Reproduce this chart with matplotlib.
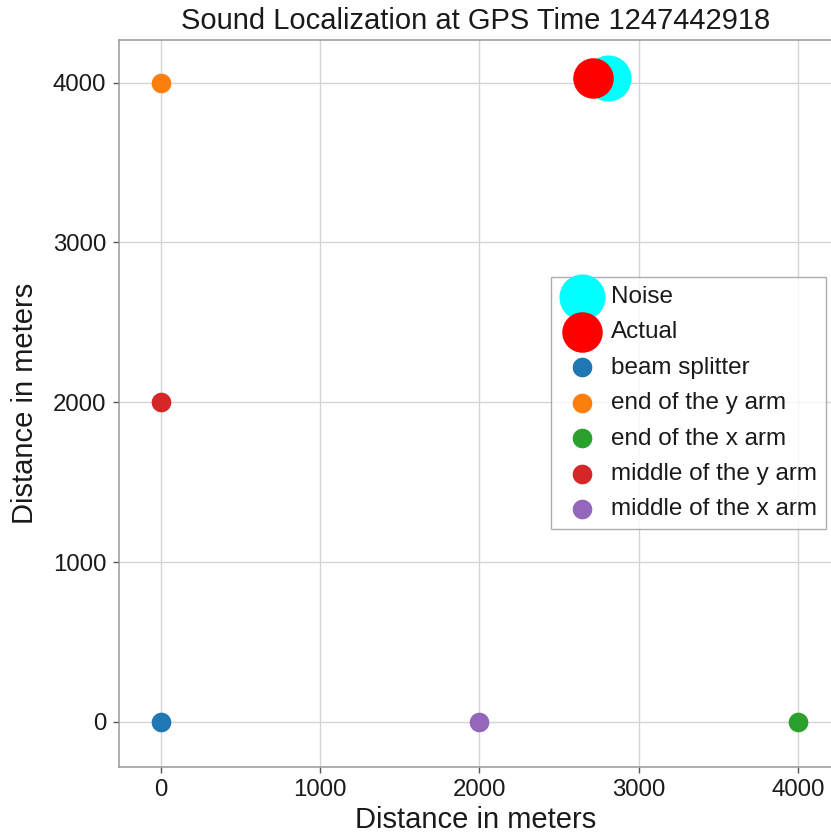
import matplotlib
matplotlib.use("Agg")
import matplotlib.pyplot as plt

plt.rcParams['font.family'] = ['Liberation Sans', 'DejaVu Sans']

# Data
noise_xy = (2810, 4030)
actual_xy = (2710, 4030)
detector_labels = ["beam splitter", "end of the y arm", "end of the x arm",
                   "middle of the y arm", "middle of the x arm"]
detector_x = [0, 0, 4000, 0, 2000]
detector_y = [0, 4000, 0, 2000, 0]
detector_colors = ["#1f77b4", "#ff7f0e", "#2ca02c", "#d62728", "#9467bd"]
xticks = [0, 1000, 2000, 3000, 4000]
yticks = [0, 1000, 2000, 3000, 4000]

W, H = 831, 835
fig = plt.figure(figsize=(W / 100, H / 100), dpi=100)
ax = fig.add_axes([119 / W, 1 - 767 / H, (832 - 119) / W, (767 - 40) / H])

txt = "#1a1a1a"
ax.set_axisbelow(True)
ax.grid(True, color="#d5d5d5", linewidth=1)
for s in ax.spines.values():
    s.set_color("#999999")
    s.set_linewidth(1.1)
ax.tick_params(axis="both", direction="out", length=4, width=1, color="#555555",
               labelsize=17.3, labelcolor=txt, pad=5)

ax.scatter([noise_xy[0]], [noise_xy[1]], s=1100, color="cyan", label="Noise", zorder=3, linewidths=0)
ax.scatter([actual_xy[0]], [actual_xy[1]], s=850, color="red", label="Actual", zorder=3, linewidths=0)
for x, y, lab, c in zip(detector_x, detector_y, detector_labels, detector_colors):
    ax.scatter([x], [y], s=200, color=c, label=lab, zorder=3, linewidths=0)

ax.set_xlim(-264, 4214)
ax.set_ylim(-282, 4267)
ax.set_xticks(xticks)
ax.set_yticks(yticks)

ax.set_title("Sound Localization at GPS Time 1247442918", fontsize=21, color=txt, pad=8)
ax.set_xlabel("Distance in meters", fontsize=21, color=txt, labelpad=3)
ax.set_ylabel("Distance in meters", fontsize=21, color=txt, labelpad=10)

leg = ax.legend(loc="upper right", bbox_to_anchor=(826 / W, 1 - 277 / H),
                bbox_transform=fig.transFigure, fontsize=17.5, frameon=True,
                fancybox=False, borderaxespad=0, handletextpad=0.3,
                handlelength=1.8, labelspacing=0.55, borderpad=0.37)
leg.get_frame().set_edgecolor("#999999")
leg.get_frame().set_linewidth(1)
for t in leg.get_texts():
    t.set_color(txt)

fig.savefig("out.png", dpi=100)
